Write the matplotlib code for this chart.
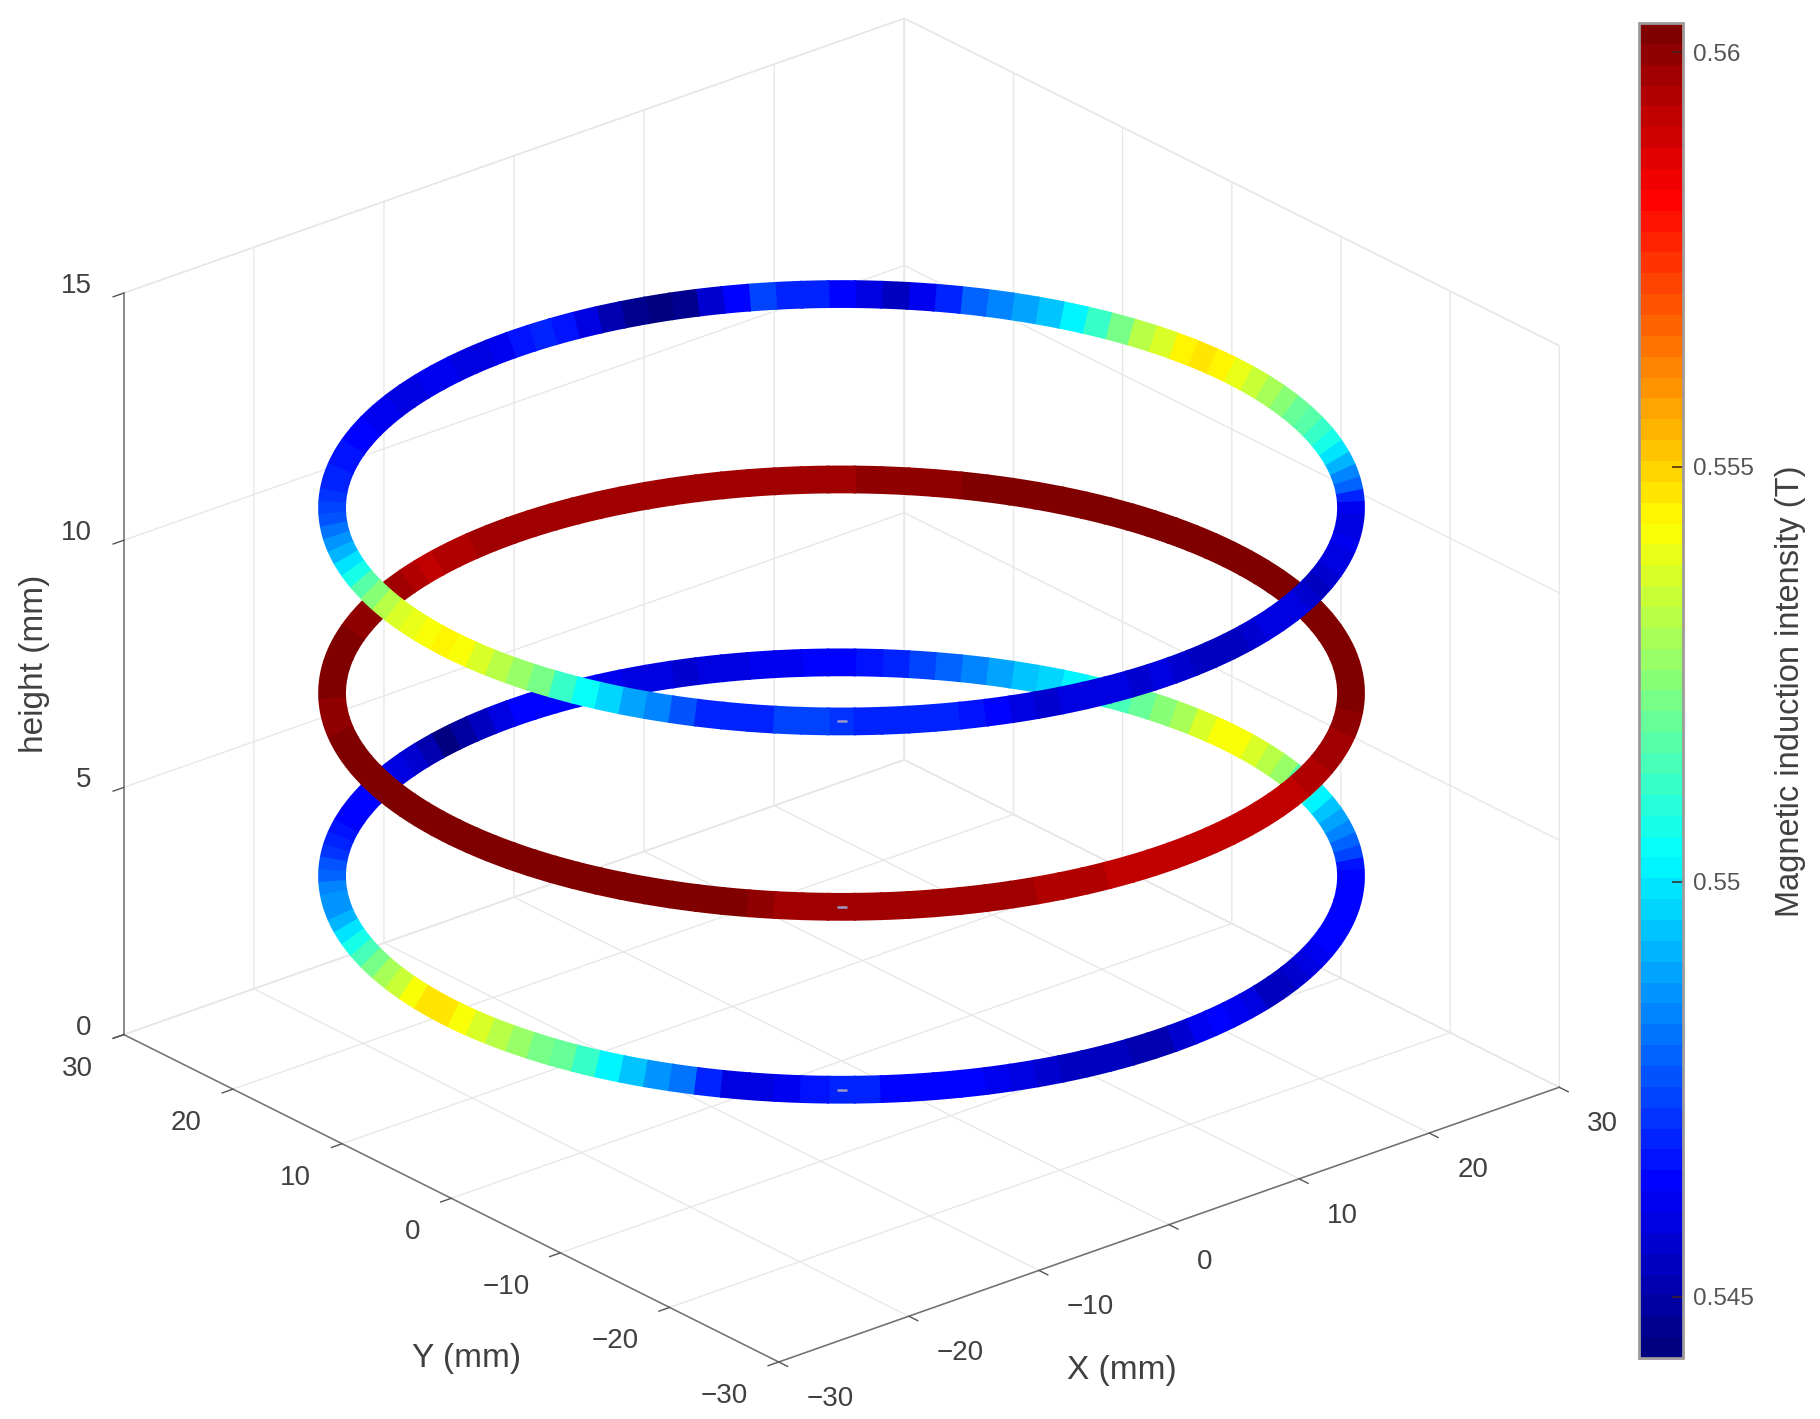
import numpy as np
import matplotlib
matplotlib.use('Agg')
import matplotlib.pyplot as plt
from matplotlib.cm import ScalarMappable
from matplotlib.colors import LinearSegmentedColormap, Normalize
from mpl_toolkits.mplot3d import proj3d
from mpl_toolkits.mplot3d.art3d import Line3DCollection

plt.rcParams['font.family'] = ['Liberation Sans', 'DejaVu Sans']

# ring heights in mm, radius in mm
ring_heights = [3.74, 7.44, 11.19]
ring_radius = 30

# field read around each ring, every 3 degrees, starting at the point nearest the viewer
bottom_ring = [
    .5470, .5468, .5465, .5465, .5464, .5463, .5462, .5459, .5456, .5455, .5454, .5453,
    .5452, .5451, .5456, .5461, .5465, .5462, .5458, .5454, .5453, .5456, .5459, .5462,
    .5463, .5463, .5463, .5463, .5463, .5463, .5463, .5467, .5473, .5479, .5484, .5490,
    .5495, .5502, .5509, .5517, .5526, .5532, .5538, .5542, .5542, .5536, .5530, .5525,
    .5519, .5513, .5507, .5501, .5497, .5493, .5488, .5483, .5478, .5474, .5470, .5467,
    .5464, .5463, .5462, .5461, .5459, .5458, .5457, .5459, .5460, .5462, .5463, .5463,
    .5463, .5463, .5459, .5453, .5448, .5445, .5451, .5457, .5459, .5461, .5462, .5463,
    .5463, .5465, .5467, .5470, .5472, .5476, .5480, .5484, .5486, .5487, .5491, .5499,
    .5507, .5515, .5522, .5529, .5535, .5541, .5547, .5546, .5541, .5536, .5531, .5527,
    .5523, .5519, .5511, .5502, .5493, .5487, .5481, .5470, .5458, .5458, .5462, .5467]
middle_ring = [
    .5598, .5598, .5597, .5597, .5597, .5597, .5597, .5596, .5595, .5594, .5594, .5593,
    .5592, .5591, .5591, .5591, .5591, .5591, .5591, .5591, .5592, .5593, .5594, .5595,
    .5596, .5597, .5598, .5599, .5600, .5601, .5601, .5602, .5602, .5602, .5602, .5602,
    .5601, .5601, .5601, .5601, .5601, .5601, .5601, .5601, .5601, .5601, .5601, .5601,
    .5601, .5601, .5601, .5601, .5601, .5601, .5601, .5601, .5599, .5599, .5599, .5599,
    .5598, .5598, .5598, .5598, .5598, .5597, .5597, .5597, .5597, .5597, .5597, .5598,
    .5598, .5598, .5597, .5596, .5595, .5594, .5593, .5594, .5596, .5597, .5599, .5600,
    .5600, .5601, .5601, .5601, .5601, .5601, .5601, .5600, .5599, .5599, .5601, .5602,
    .5603, .5603, .5603, .5603, .5603, .5603, .5603, .5603, .5603, .5603, .5603, .5603,
    .5603, .5603, .5603, .5603, .5603, .5603, .5602, .5602, .5601, .5599, .5598, .5598]
top_ring = [
    .5472, .5470, .5469, .5468, .5469, .5467, .5463, .5459, .5456, .5458, .5460, .5458,
    .5456, .5458, .5456, .5454, .5453, .5454, .5456, .5458, .5460, .5458, .5456, .5454,
    .5456, .5458, .5460, .5462, .5460, .5459, .5462, .5470, .5478, .5485, .5492, .5500,
    .5507, .5512, .5516, .5519, .5524, .5529, .5534, .5539, .5544, .5548, .5545, .5538,
    .5531, .5523, .5512, .5502, .5495, .5488, .5483, .5478, .5470, .5462, .5455, .5458,
    .5463, .5470, .5469, .5473, .5465, .5456, .5447, .5443, .5447, .5452, .5458, .5466,
    .5468, .5466, .5461, .5458, .5459, .5461, .5461, .5459, .5459, .5461, .5462, .5463,
    .5465, .5466, .5467, .5468, .5470, .5472, .5473, .5477, .5481, .5486, .5492, .5500,
    .5507, .5516, .5525, .5531, .5536, .5539, .5542, .5544, .5541, .5536, .5531, .5526,
    .5521, .5511, .5503, .5496, .5490, .5484, .5477, .5470, .5468, .5470, .5473, .5473]
ring_values = [bottom_ring, middle_ring, top_ring]

xy_ticks = [-30, -20, -10, 0, 10, 20, 30]
z_ticks = [0, 5, 10, 15]
cbar_ticks = [0.545, 0.55, 0.555, 0.56]
cbar_labels = ['0.545', '0.55', '0.555', '0.56']
cbar_min = 0.54426
cbar_max = 0.56035

azim = -130
elev = 24.8

W, H = 1820, 1419
fig = plt.figure(figsize=(W / 100, H / 100), dpi=100)
ax = fig.add_axes([15.8 / W, -96.9 / H, 1608 / W, 1608 / H], projection='3d',
                  proj_type='ortho', computed_zorder=False)
ax.patch.set_alpha(0)
ax.view_init(elev=elev, azim=azim)
ax.set_box_aspect((60, 60, 48.1))
ax.set_xlim(-30, 30)
ax.set_ylim(-30, 30)
ax.set_zlim(0, 15)
ax.set_xticks(xy_ticks)
ax.set_yticks(xy_ticks)
ax.set_zticks(z_ticks)
ax.set_xticklabels([])
ax.set_yticklabels([])
ax.set_zticklabels([])

for axis in (ax.xaxis, ax.yaxis, ax.zaxis):
    axis.set_pane_color((1, 1, 1, 1))
    axis.pane.set_edgecolor('#e2e2e2')
    axis.line.set_color('#707070')
    axis.line.set_linewidth(1.1)
    axis._axinfo['grid'].update(color='#e8e8e8', linewidth=1.0)
    axis._axinfo['tick'].update(inward_factor=0.17, outward_factor=0.0)
    axis._axinfo['tick']['linewidth'] = {True: 1.0, False: 0.8}
ax.tick_params(axis='both', colors='#555555')


# tick labels by hand, mplot3d's own ones can only be moved along one direction
def tick_label(x, y, z, text, ha, dx, dy):
    px, py, _ = proj3d.proj_transform(x, y, z, ax.get_proj())
    ax.annotate(text, (px, py), xytext=(dx, dy), textcoords='offset pixels', ha=ha, va='center',
                fontsize=20, color='#404040', annotation_clip=False)


for v in xy_ticks:
    text = str(v).replace('-', '\u2212')
    tick_label(v, -30, 0, text, 'left', 28, -37)
    tick_label(-30, v, 0, text, 'right', -31, -34)
for v in z_ticks:
    tick_label(-30, 30, v, str(v), 'right', -32, 7)

# jet as MATLAB builds it, 64 steps
cmap = LinearSegmentedColormap.from_list(
    'matlab_jet',
    [(0, '#000080'), (1 / 8, '#0000ff'), (3 / 8, '#00ffff'), (5 / 8, '#ffff00'),
     (7 / 8, '#ff0000'), (1, '#800000')], N=64)
norm = Normalize(cbar_min, cbar_max)


def ring_segments(z, values):
    step = 360 / len(values)
    segs = []
    phis = np.arange(len(values)) * step
    for phi in phis:
        t = np.radians(np.linspace(phi - step * 0.55, phi + step * 0.55, 5) + azim)
        segs.append(np.column_stack([ring_radius * np.cos(t), ring_radius * np.sin(t),
                                     np.full(5, z)]))
    return segs, phis


# far half of every ring first, near half on top
for z, values in zip(ring_heights, ring_values):
    segs, phis = ring_segments(z, values)
    values = np.array(values)
    near = (phis <= 90) | (phis >= 270)
    for mask, order in ((~near, 2), (near, 3)):
        lc = Line3DCollection([s for s, m in zip(segs, mask) if m], cmap=cmap, norm=norm,
                              linewidths=20, capstyle='butt', zorder=order)
        lc.set_array(values[mask])
        ax.add_collection3d(lc)
    t0 = np.radians(azim)
    ax.plot([ring_radius * np.cos(t0)], [ring_radius * np.sin(t0)], [z], marker='_', ms=7,
            mew=1.8, color='#9a9ac8', zorder=4)

cax = fig.add_axes([1639 / W, 1 - 1358 / H, 44 / W, 1335 / H])
cb = fig.colorbar(ScalarMappable(norm=norm, cmap=cmap), cax=cax, ticks=cbar_ticks)
cb.ax.set_yticklabels(cbar_labels)
cb.ax.tick_params(direction='in', length=8, width=1.1, color='#402020', labelsize=17.5,
                  labelcolor='#555555', pad=7)
cb.outline.set_edgecolor('#a09a9a')
cb.outline.set_linewidth(2)

label_color = '#404040'
fig.text(1790 / W, 1 - 691 / H, 'Magnetic induction intensity (T)', rotation=90, ha='center',
         va='center', fontsize=23.5, color=label_color)
fig.text(35 / W, 1 - 664 / H, 'height (mm)', rotation=90, ha='center', va='center',
         fontsize=24, color=label_color)
fig.text(467 / W, 1 - 1358 / H, 'Y (mm)', ha='center', va='center', fontsize=24, color=label_color)
fig.text(1122 / W, 1 - 1371 / H, 'X (mm)', ha='center', va='center', fontsize=24, color=label_color)

fig.savefig('out.png', dpi=100)
